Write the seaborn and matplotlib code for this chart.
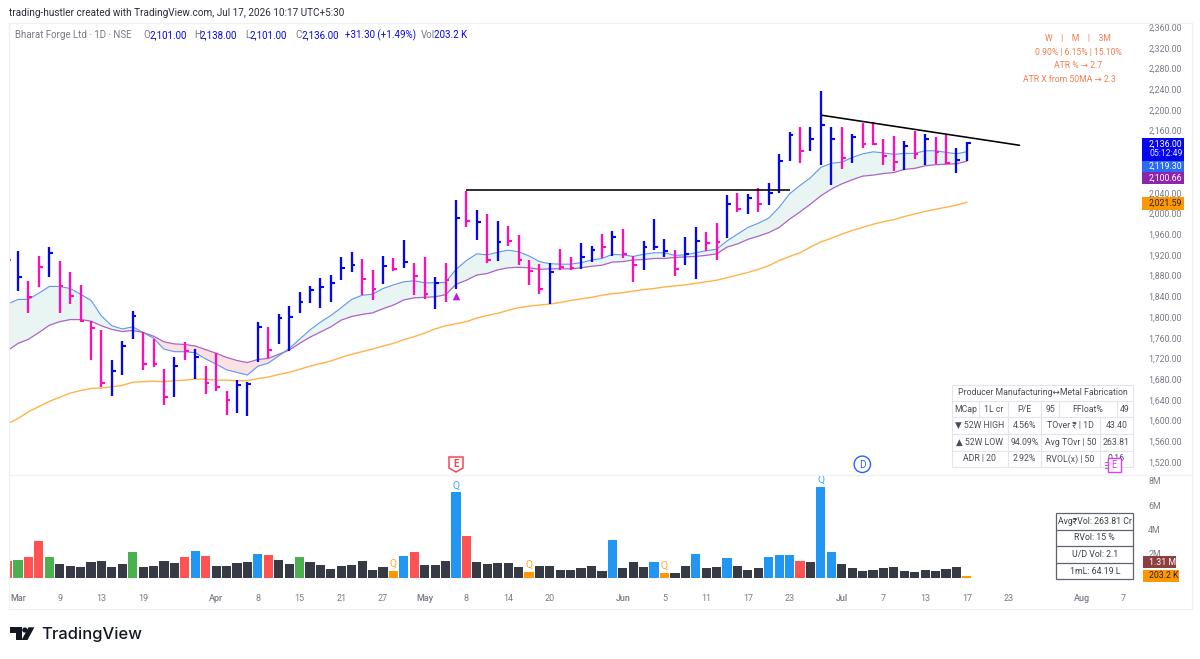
import matplotlib
matplotlib.use("Agg")
import matplotlib.pyplot as plt
from matplotlib.patches import Rectangle, Polygon, Circle
import numpy as np
import pandas as pd
import seaborn as sns

sns.set_theme(style="white")
FONT = ["Roboto", "DejaVu Sans"]
plt.rcParams["font.family"] = FONT

# Daily OHLC-style bars for Bharat Forge (close tick only)
high = [1940, 1928, 1870, 1917, 1935, 1908, 1886, 1862, 1793, 1774,
        1716, 1753, 1811, 1771, 1757, 1699, 1723, 1751, 1738, 1706,
        1730, 1657, 1679, 1675, 1790, 1781, 1805, 1821, 1848, 1859,
        1875, 1881, 1915, 1925, 1912, 1891, 1918, 1914, 1949, 1905,
        1915, 1877, 1904, 2025, 2044, 2007, 1998, 1985, 1976, 1959,
        1910, 1902, 1905, 1931, 1915, 1942, 1938, 1960, 1966, 1969,
        1918, 1947, 1989, 1951, 1929, 1954, 1974, 1964, 1982, 2036,
        2039, 2038, 2049, 2058, 2114, 2158, 2167, 2166, 2237, 2166,
        2167, 2153, 2175, 2176, 2143, 2150, 2140, 2160, 2153, 2148,
        2152, 2126, 2138]
low = [1885, 1850, 1808, 1857, 1877, 1807, 1825, 1790, 1717, 1664,
       1647, 1688, 1757, 1698, 1703, 1630, 1646, 1717, 1681, 1651,
       1658, 1610, 1614, 1608, 1713, 1720, 1748, 1735, 1808, 1827,
       1818, 1829, 1871, 1886, 1843, 1833, 1863, 1888, 1894, 1843,
       1835, 1816, 1828, 1854, 1973, 1949, 1905, 1908, 1937, 1901,
       1862, 1845, 1825, 1890, 1890, 1893, 1906, 1913, 1918, 1913,
       1868, 1891, 1929, 1915, 1879, 1901, 1874, 1927, 1910, 1952,
       2003, 1998, 2003, 2017, 2039, 2102, 2097, 2121, 2094, 2054,
       2086, 2097, 2127, 2132, 2094, 2081, 2083, 2105, 2094, 2096,
       2096, 2079, 2101]
close = [1910, 1877, 1839, 1897, 1923, 1860, 1840, 1792, 1778, 1673,
         1695, 1744, 1802, 1710, 1709, 1646, 1706, 1735, 1723, 1672,
         1664, 1640, 1668, 1671, 1780, 1736, 1798, 1800, 1829, 1853,
         1858, 1865, 1894, 1901, 1873, 1855, 1899, 1892, 1906, 1880,
         1845, 1865, 1872, 1991, 1986, 1984, 1911, 1944, 1946, 1911,
         1889, 1855, 1886, 1896, 1894, 1915, 1929, 1936, 1955, 1921,
         1900, 1935, 1935, 1928, 1892, 1922, 1947, 1942, 1944, 2019,
         2009, 2029, 2019, 2039, 2102, 2151, 2121, 2144, 2170, 2143,
         2107, 2147, 2135, 2135, 2110, 2099, 2131, 2114, 2144, 2119,
         2098, 2103, 2136]
bar_direction = ("pbppbppppp" "bbbpppbpbp" "ppbbbpbbbb" "bbbbppbpbp" "pbpbpbpbpp"
                 "ppbppbbpbp" "pbbbpbbppb" "pbpbbbpbbb" "pbppppbpbp" "pbb")

# Moving averages
ma_fast = [1825, 1834, 1834, 1846, 1859, 1859, 1855, 1844, 1832, 1802,
           1783, 1777, 1781, 1770, 1759, 1738, 1733, 1733, 1731, 1719,
           1709, 1698, 1693, 1688, 1705, 1711, 1725, 1739, 1757, 1775,
           1790, 1803, 1818, 1834, 1842, 1844, 1855, 1862, 1868, 1870,
           1866, 1866, 1867, 1892, 1909, 1922, 1920, 1925, 1929, 1926,
           1918, 1907, 1903, 1902, 1902, 1905, 1910, 1913, 1921, 1920,
           1917, 1921, 1924, 1924, 1919, 1920, 1924, 1928, 1931, 1947,
           1960, 1973, 1981, 1991, 2012, 2038, 2054, 2069, 2089, 2097,
           2099, 2108, 2115, 2119, 2117, 2114, 2116, 2116, 2121, 2121,
           2118, 2115, 2119.30]
ma_slow = [1735, 1749, 1757, 1770, 1784, 1791, 1795, 1795, 1792, 1783,
           1776, 1772, 1774, 1770, 1763, 1752, 1748, 1747, 1744, 1737,
           1730, 1722, 1716, 1712, 1718, 1720, 1728, 1736, 1749, 1761,
           1771, 1781, 1794, 1801, 1805, 1808, 1816, 1823, 1833, 1837,
           1838, 1839, 1843, 1863, 1871, 1881, 1884, 1891, 1895, 1896,
           1895, 1892, 1893, 1893, 1893, 1895, 1898, 1900, 1906, 1907,
           1910, 1911, 1913, 1913, 1915, 1916, 1917, 1919, 1922, 1935,
           1941, 1950, 1956, 1963, 1973, 1989, 2003, 2018, 2034, 2047,
           2057, 2065, 2072, 2074, 2077, 2079, 2085, 2087, 2092, 2094,
           2095, 2096, 2100.66]
ma_50 = [1594, 1604, 1617, 1627, 1637, 1645, 1653, 1658, 1662, 1663,
         1665, 1668, 1674, 1675, 1676, 1675, 1677, 1678, 1680, 1680,
         1678, 1678, 1677, 1677, 1681, 1684, 1689, 1693, 1699, 1705,
         1710, 1715, 1722, 1728, 1733, 1738, 1744, 1749, 1756, 1762,
         1769, 1777, 1783, 1787, 1791, 1798, 1803, 1807, 1813, 1818,
         1821, 1823, 1825, 1828, 1832, 1835, 1838, 1842, 1845, 1847,
         1850, 1853, 1855, 1858, 1860, 1862, 1865, 1868, 1871, 1876,
         1881, 1886, 1892, 1899, 1909, 1917, 1924, 1935, 1945, 1952,
         1960, 1967, 1973, 1979, 1984, 1988, 1994, 1999, 2004, 2008,
         2012, 2016, 2021.59]

# Volume in millions of shares with its highlight class
volume = [1.43, 1.51, 1.73, 3.05, 1.73, 1.18, 0.99, 0.88, 1.29, 1.40,
          0.91, 1.15, 2.17, 0.91, 0.99, 1.40, 1.24, 1.73, 2.23, 1.84,
          0.96, 1.02, 1.24, 1.32, 2.01, 1.90, 1.51, 1.18, 1.73, 1.29,
          1.07, 0.74, 1.02, 1.07, 1.40, 0.69, 0.91, 0.58, 1.79, 2.12,
          1.07, 1.04, 1.40, 7.06, 3.43, 1.35, 1.13, 1.24, 1.24, 0.88,
          0.47, 1.02, 0.96, 0.66, 0.66, 0.85, 1.02, 0.60, 3.13, 0.80,
          1.29, 0.88, 1.35, 0.41, 0.41, 1.02, 1.95, 0.80, 0.91, 1.68,
          0.96, 0.69, 0.85, 1.73, 1.90, 1.90, 1.37, 1.29, 7.50, 2.17,
          1.13, 0.80, 0.58, 0.69, 0.80, 0.91, 0.58, 0.52, 0.66, 0.58,
          0.74, 0.88, 0.2032]
volume_class = ("rgrrgkkkkk" "kkgkkkkrbr" "kkkkbrkkgk" "kkkkkkkobr" "kkkbrkkkkk"
                "okkkkkkkbk" "kkbokkbkkb" "kkkbbbrkbb" "kkkkkkkkkk" "kko")
q_bars = [37, 43, 50, 63, 78]

price_ticks = [1520, 1560, 1600, 1640, 1680, 1720, 1760, 1800, 1840, 1880, 1920,
               1960, 2000, 2040, 2160, 2200, 2240, 2280, 2320, 2360]
volume_ticks = [2, 4, 6, 8]
date_positions = [1, 5, 9, 13, 20, 24, 28, 32, 36, 40, 44, 48, 52, 59, 63, 67, 71,
                  75, 80, 84, 88, 92, 96, 103, 107]
date_labels = ["Mar", "9", "13", "19", "Apr", "8", "15", "21", "27", "May", "8", "14",
               "20", "Jun", "5", "11", "17", "23", "Jul", "7", "13", "17", "23", "Aug", "7"]

BAR_BLUE = "#0606ea"
BAR_PINK = "#ff0db4"
AXIS_GREY = "#787b86"
GRID_LINE = "#eef0f5"
WIDTH, HEIGHT = 1200, 659

idx = np.arange(len(close))
prices = pd.DataFrame({"idx": idx, "high": high, "low": low, "close": close,
                       "fast": ma_fast, "slow": ma_slow, "ma50": ma_50,
                       "dir": list(bar_direction)})
vols = pd.DataFrame({"idx": idx, "volume": volume, "cls": list(volume_class)})

fig = plt.figure(figsize=(WIDTH / 100, HEIGHT / 100), dpi=100, facecolor="white")


def axes_px(left, top, right, bottom):
    return fig.add_axes([left / WIDTH, 1 - bottom / HEIGHT,
                         (right - left) / WIDTH, (bottom - top) / HEIGHT])


X_LIM = (0.134, 108.7)
PX_PER_UNIT = 435 / 840

# Price pane
ax = axes_px(9, 24, 1141, 474)
ax.set_facecolor("none")
ax.fill_between(prices["idx"], prices["fast"], prices["slow"],
                where=prices["fast"] >= prices["slow"], interpolate=True,
                color="#e8f5f2", lw=0, zorder=1)
ax.fill_between(prices["idx"], prices["fast"], prices["slow"],
                where=prices["fast"] <= prices["slow"], interpolate=True,
                color="#fbe2e2", lw=0, zorder=1)
sns.lineplot(data=prices, x="idx", y="ma50", ax=ax, color="#ffb347", lw=1.0, zorder=2)
sns.lineplot(data=prices, x="idx", y="slow", ax=ax, color="#ad62c6", lw=0.9, zorder=2)
sns.lineplot(data=prices, x="idx", y="fast", ax=ax, color="#5f96f6", lw=0.8, zorder=2)

for code, colour in (("b", BAR_BLUE), ("p", BAR_PINK)):
    sub = prices[prices["dir"] == code]
    ax.vlines(sub["idx"], sub["low"], sub["high"], color=colour, lw=1.65, zorder=3)
    ax.hlines(sub["close"], sub["idx"], sub["idx"] + 0.36, color=colour, lw=1.5, zorder=3)

# Drawn breakout levels
ax.plot([44, 75], [2045.3, 2045.3], color="black", lw=1.15, zorder=4, solid_capstyle="butt")
ax.plot([78.1, 97.05], [2189.5, 2131.6], color="black", lw=1.15, zorder=4)
ax.scatter([43], [1841], marker="^", s=30, color="#b81fdc", lw=0, zorder=4)

ax.set_xlim(*X_LIM)
ax.set_ylim(2360 - (474 - 27) / PX_PER_UNIT, 2360 + 3 / PX_PER_UNIT)
ax.yaxis.tick_right()
ax.set_yticks(price_ticks)
ax.set_yticklabels([f"{p:,.2f}" for p in price_ticks], color=AXIS_GREY, fontsize=6.3)
ax.tick_params(axis="y", length=0, pad=5.2)
ax.set_xticks([])
ax.set_xlabel("")
ax.set_ylabel("")
sns.despine(ax=ax, left=True, bottom=True, right=True, top=True)

# Volume pane
vax = axes_px(9, 476, 1141, 578)
vax.set_facecolor("none")
palette = {"r": "#ff5252", "g": "#4caf50", "b": "#2196f3", "k": "#363a45", "o": "#ff9800"}
sns.barplot(data=vols, x="idx", y="volume", hue="cls", palette=palette, dodge=False,
            native_scale=True, width=0.88, legend=False, ax=vax, saturation=1, lw=0)
for i in q_bars:
    colour = "#ffa726" if volume_class[i] == "o" else "#42a5f5"
    vax.annotate("Q", (i, volume[i]), xytext=(0, 1.5), textcoords="offset points",
                 ha="center", va="bottom", color=colour, fontsize=7.5)
vax.set_xlim(*X_LIM)
vax.set_ylim(0, 102 / 12.125)
vax.yaxis.tick_right()
vax.set_yticks(volume_ticks)
vax.set_yticklabels([f"{v}M" for v in volume_ticks], color=AXIS_GREY, fontsize=6.3)
vax.tick_params(axis="y", length=0, pad=5.2)
vax.set_xticks(date_positions)
vax.set_xticklabels(date_labels, color=AXIS_GREY, fontsize=6.5)
vax.tick_params(axis="x", length=0, pad=11.8)
for lab, txt in zip(vax.get_xticklabels(), date_labels):
    if txt.isalpha():
        lab.set_fontweight("medium")
vax.set_xlabel("")
vax.set_ylabel("")
sns.despine(ax=vax, left=True, bottom=True, right=True, top=True)

# Overlay in pixel units for frames, tags, tables and branding
ov = fig.add_axes([0, 0, 1, 1])
ov.set_xlim(0, WIDTH)
ov.set_ylim(HEIGHT, 0)
ov.axis("off")
ov.patch.set_alpha(0)


def text(x, y, s, color="#333333", size=6.3, ha="left", va="center", **kw):
    ov.text(x, y, s, color=color, fontsize=size, ha=ha, va=va, family=FONT, **kw)


for (x0, y0, x1, y1) in [(8.5, 23, 1191.5, 23), (8.5, 475, 1191.5, 475), (8.5, 609, 1191.5, 609),
                         (8.5, 23, 8.5, 609), (1191.5, 23, 1191.5, 609)]:
    ov.plot([x0, x1], [y0, y1], color=GRID_LINE, lw=0.9)

text(9, 13, "trading-hustler created with TradingView.com, Jul 17, 2026 10:17 UTC+5:30",
     color="#2a2e39", size=7.2)
text(15, 35, "Bharat Forge Ltd · 1D · NSE", color=AXIS_GREY, size=7)
for x, s, colour in [(143, "O", AXIS_GREY), (150, "2,101.00", BAR_BLUE), (194, "H", AXIS_GREY),
                     (200, "2,138.00", BAR_BLUE), (245, "L", AXIS_GREY), (250, "2,101.00", BAR_BLUE),
                     (295, "C", AXIS_GREY), (301, "2,136.00", BAR_BLUE),
                     (345, "+31.30 (+1.49%)", BAR_BLUE), (421, "Vol", AXIS_GREY),
                     (434, "203.2 K", BAR_BLUE)]:
    text(x, 35, s, color=colour, size=7)

ORANGE = "#ef7f50"
text(1078, 38, "W    |    M    |    3M", color=ORANGE, size=6.2, ha="center")
text(1078, 52, "0.90% | 6.15% | 15.10%", color=ORANGE, size=6.2, ha="center")
text(1078, 66, "ATR % → 2.7", color=ORANGE, size=6.2, ha="center")
text(1069.5, 80, "ATR X from 50MA → 2.3", color=ORANGE, size=6.2, ha="center")

# Value tags on the price and volume scales
for y0, y1, colour, label, tcol in [
    (138, 161, "#0606ea", None, "white"),
    (161, 172, "#2a6cf6", "2,119.30", "white"),
    (172, 184, "#8e24aa", "2,100.66", "white"),
    (197, 209.5, "#ff9800", "2,021.59", "#222222"),
]:
    ov.add_patch(Rectangle((1142.3, y0), 41.7, y1 - y0, fc=colour, ec="none", zorder=5))
    if label:
        text(1149, (y0 + y1) / 2, label, color=tcol, size=6.3, zorder=6)
text(1149, 144.5, "2,136.00", color="white", size=6.3, zorder=6)
text(1149, 154, "05:12:49", color="#dfe3ff", size=6.2, zorder=6)
ov.add_patch(Rectangle((1142.7, 556.3), 33.5, 12, fc="#8d3f3f", ec="none", zorder=5))
text(1149, 562.3, "1.31 M", color="white", size=6.3, zorder=6)
ov.add_patch(Rectangle((1142.7, 570), 36, 12, fc="#ff9800", ec="none", zorder=5))
text(1149, 576, "203.2 K", color="#222222", size=6.3, zorder=6)

# Fundamentals table
TABLE_LINE = "#e3e5ea"
TABLE_TEXT = "#4a4e58"
ty = [384.7, 401, 417.3, 434, 450.7, 467]
ov.add_patch(Rectangle((951.7, ty[0]), 181.6, ty[-1] - ty[0], fc="white", ec=TABLE_LINE, lw=0.8, zorder=3))
for y in ty[1:-1]:
    ov.plot([951.7, 1133.3], [y, y], color=TABLE_LINE, lw=0.8, zorder=4)
row2_x = [951.7, 979.3, 1007.7, 1041.3, 1058.7, 1116.7, 1133.3]
for x in row2_x[1:-1]:
    ov.plot([x, x], [ty[1], ty[2]], color=TABLE_LINE, lw=0.8, zorder=4)
for x in [1007.7, 1041.3, 1099.7]:
    ov.plot([x, x], [ty[2], ty[5]], color=TABLE_LINE, lw=0.8, zorder=4)
text(1042.5, (ty[0] + ty[1]) / 2, "Producer Manufacturing↔Metal Fabrication", color=TABLE_TEXT, ha="center", zorder=5)
for i, s in enumerate(["MCap", "1L cr", "P/E", "95", "FFloat%", "49"]):
    text((row2_x[i] + row2_x[i + 1]) / 2, (ty[1] + ty[2]) / 2, s, color=TABLE_TEXT, ha="center", zorder=5)
rows = [("▼ 52W HIGH", "4.56%", "TOver ₹ | 1D", "43.40"),
        ("▲ 52W LOW", "94.09%", "Avg TOvr | 50", "263.81"),
        ("ADR | 20", "2.92%", "RVOL(x) | 50", "0.16")]
cols = [(951.7 + 1007.7) / 2, (1007.7 + 1041.3) / 2, (1041.3 + 1099.7) / 2, (1099.7 + 1133.3) / 2]
for r, row in enumerate(rows):
    for c, s in enumerate(row):
        text(cols[c], (ty[2 + r] + ty[3 + r]) / 2, s, color=TABLE_TEXT, ha="center", zorder=5)

# Earnings flag sitting on the table corner
MAGENTA = "#e23df5"
ov.add_patch(Rectangle((1108, 457.5), 12.5, 14, fc="white", ec=MAGENTA, lw=1.0, zorder=6))
for y in (461.5, 464.5, 467.5):
    ov.plot([1104.5, 1108], [y, y], color=MAGENTA, lw=0.8, zorder=6)
text(1114.3, 464.5, "E", color=MAGENTA, size=7, ha="center", zorder=7)

# Volume stats box
VBOX = "#5f636e"
vy = [513.3, 529.6, 546, 562.7, 579.3]
ov.add_patch(Rectangle((1056.3, vy[0]), 77, vy[-1] - vy[0], fc="white", ec=VBOX, lw=0.9, zorder=3))
for y in vy[1:-1]:
    ov.plot([1056.3, 1133.3], [y, y], color=VBOX, lw=0.9, zorder=4)
for r, s in enumerate(["Avg₹Vol: 263.81 Cr", "RVol: 15 %", "U/D Vol: 2.1", "1mL: 64.19 L"]):
    text(1094.8, (vy[r] + vy[r + 1]) / 2, s, color="#3a3e49", ha="center", zorder=5)

# Earnings and dividend event markers
RED = "#f0475a"
ov.add_patch(Polygon([(449, 457), (463, 457), (463, 468), (456, 472), (449, 468)],
                     closed=True, fc="white", ec=RED, lw=1.1, zorder=5))
text(456, 464, "E", color=RED, size=7, ha="center", fontweight="bold", zorder=6)
ov.add_patch(Circle((862.3, 464.3), 8.2, fc="white", ec="#2962ff", lw=1.0, zorder=5))
text(862.3, 464.5, "D", color="#2962ff", size=7.2, ha="center", zorder=6)

# Brand mark
LOGO = "#131722"
ov.add_patch(Polygon([(10, 627.3), (21.7, 627.3), (21.7, 640), (15.7, 640), (15.7, 632.7), (10, 632.7)],
                     closed=True, fc=LOGO, ec="none"))
ov.add_patch(Circle((24.8, 630), 2.6, fc=LOGO, ec="none"))
ov.add_patch(Polygon([(28.5, 627.3), (34.4, 627.3), (27.5, 640), (21.6, 640)], closed=True, fc=LOGO, ec="none"))
ov.text(41, 634.5, "TradingView", color=LOGO, fontsize=11.9, family="Inter", fontweight="medium",
        ha="left", va="center")

fig.savefig("out.png", dpi=100, facecolor="white")
